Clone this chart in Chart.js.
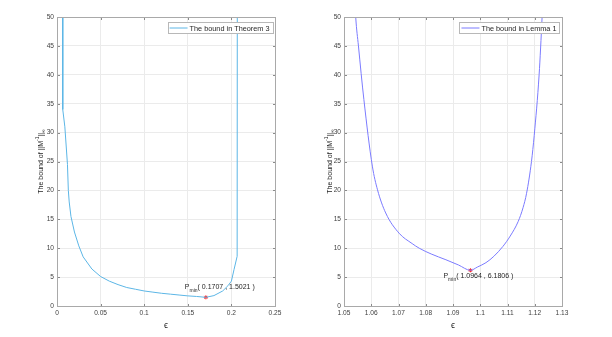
<!DOCTYPE html>
<html>
<head>
<meta charset="utf-8">
<script src="https://cdn.jsdelivr.net/npm/chart.js@4.4.0/dist/chart.umd.min.js"></script>
<style>
  html, body { margin: 0; padding: 0; background: #fff; }
  #wrap { position: relative; width: 612px; height: 337px; }
  .panel { position: absolute; top: 0; width: 306px; height: 337px; }
</style>
</head>
<body>
<div id="wrap">
  <div class="panel" style="left:0"><canvas id="chartLeft" width="306" height="337"></canvas></div>
  <div class="panel" style="left:306px"><canvas id="chartRight" width="306" height="337"></canvas></div>
</div>
<script>
// left panel: bound in Theorem 3
const leftEps   = [0.0062, 0.0066, 0.0090, 0.0120, 0.0130, 0.0140, 0.0160, 0.020, 0.025, 0.030, 0.040, 0.050, 0.060, 0.070, 0.080, 0.090, 0.100, 0.110, 0.120, 0.130, 0.140, 0.150, 0.160, 0.1707, 0.180, 0.190, 0.196, 0.200, 0.203, 0.2066, 0.2077];
const leftBound = [300, 34, 31, 24.5, 20, 18, 15.5, 12.8, 10.4, 8.5, 6.4, 5.1, 4.3, 3.7, 3.2, 2.9, 2.6, 2.4, 2.2, 2.05, 1.9, 1.75, 1.65, 1.5021, 1.8, 2.6, 3.5, 4.3, 6.3, 8.6, 300];
const leftMin = [0.1707, 1.5021];
const leftXTicks = [0, 0.05, 0.1, 0.15, 0.2, 0.25];
const leftXLabels = ["0", "0.05", "0.1", "0.15", "0.2", "0.25"];

// right panel: bound in Lemma 1
const rightEps   = [1.0533, 1.0543, 1.0553, 1.0573, 1.0604, 1.0623, 1.0653, 1.0702, 1.0750, 1.0776, 1.0820, 1.0874, 1.0920, 1.0964, 1.0990, 1.1021, 1.1050, 1.1083, 1.1110, 1.1139, 1.1157, 1.1170, 1.1188, 1.1198, 1.1216, 1.1227, 1.1236];
const rightBound = [60, 50, 45, 35.7, 24.2, 20.1, 16.1, 12.6, 10.8, 10.0, 9.0, 8.0, 7.1, 6.1806, 6.75, 7.5, 8.6, 10.3, 12.1, 14.6, 17.0, 19.5, 25.0, 29.5, 40.0, 50, 60];
const rightMin = [1.0964, 6.1806];
const rightXTicks = [1.05, 1.06, 1.07, 1.08, 1.09, 1.1, 1.11, 1.12, 1.13];
const rightXLabels = ["1.05", "1.06", "1.07", "1.08", "1.09", "1.1", "1.11", "1.12", "1.13"];

const yTicks = [0, 5, 10, 15, 20, 25, 30, 35, 40, 45, 50];

const FONT = "'Liberation Sans', Arial, Helvetica, sans-serif";
const TEXT = "#262626";

function decor(o) {
  return {
    id: "decor",
    afterDraw(chart) {
      const { ctx, chartArea: a, scales: { x, y } } = chart;
      const L = Math.round(a.left) + 0.5, R = Math.round(a.right) + 0.5;
      const T = Math.round(a.top) + 0.5, B = Math.round(a.bottom) + 0.5;
      ctx.save();

      // inward tick marks
      ctx.strokeStyle = "#8a8a8a";
      ctx.lineWidth = 1;
      ctx.beginPath();
      x.ticks.forEach(t => {
        const px = Math.round(x.getPixelForValue(t.value)) + 0.5;
        ctx.moveTo(px, B); ctx.lineTo(px, B - 2.5);
        ctx.moveTo(px, T); ctx.lineTo(px, T + 2.5);
      });
      y.ticks.forEach(t => {
        const py = Math.round(y.getPixelForValue(t.value)) + 0.5;
        ctx.moveTo(L, py); ctx.lineTo(L + 2.5, py);
        ctx.moveTo(R, py); ctx.lineTo(R - 2.5, py);
      });
      ctx.stroke();

      // axes box
      ctx.strokeStyle = "#a9a9a9";
      ctx.strokeRect(L, T, R - L, B - T);

      // legend
      ctx.font = "7.3px " + FONT;
      const tw = ctx.measureText(o.legend).width;
      const bx1 = R - 3, bx0 = bx1 - (tw + 25), by0 = T + 5, bh = 11;
      ctx.fillStyle = "#fff";
      ctx.fillRect(bx0, by0, bx1 - bx0, bh);
      ctx.strokeStyle = "#b8b8b8";
      ctx.strokeRect(Math.round(bx0) + 0.5, by0, Math.round(bx1 - bx0), bh);
      ctx.strokeStyle = o.color;
      ctx.beginPath();
      ctx.moveTo(bx0 + 2, by0 + bh / 2); ctx.lineTo(bx0 + 20, by0 + bh / 2);
      ctx.stroke();
      ctx.fillStyle = TEXT;
      ctx.textBaseline = "middle";
      ctx.fillText(o.legend, bx0 + 22, by0 + bh / 2 + 0.5);

      // minimum annotation
      const mx = x.getPixelForValue(o.min[0]), my = y.getPixelForValue(o.min[1]);
      let ax = mx + o.annot[0];
      const ay = my + o.annot[1];
      ctx.textBaseline = "alphabetic";
      ctx.font = "7px " + FONT;
      ctx.fillText("P", ax, ay);
      ax += ctx.measureText("P").width;
      ctx.font = "5px " + FONT;
      ctx.fillText("min", ax, ay + 2.5);
      ax += ctx.measureText("min").width;
      ctx.font = "7px " + FONT;
      ctx.fillText("( " + o.min[0].toFixed(4) + " , " + o.min[1].toFixed(4) + " )", ax, ay);

      // y axis label with super/subscripts
      const parts = [
        ["The bound of ||M", 7, 0],
        ["-1", 5, -3],
        ["||", 7, 0],
        ["\u221e", 5, 2.5]
      ];
      let total = 0;
      parts.forEach(p => { ctx.font = p[1] + "px " + FONT; total += ctx.measureText(p[0]).width; });
      ctx.save();
      ctx.translate(o.ylabelX, (a.top + a.bottom) / 2);
      ctx.rotate(-Math.PI / 2);
      ctx.textBaseline = "middle";
      let cx = -total / 2;
      parts.forEach(p => {
        ctx.font = p[1] + "px " + FONT;
        ctx.fillText(p[0], cx, p[2]);
        cx += ctx.measureText(p[0]).width;
      });
      ctx.restore();

      // x axis label
      ctx.font = "9px " + FONT;
      ctx.textAlign = "center";
      ctx.textBaseline = "middle";
      ctx.fillText("\u03f5", (a.left + a.right) / 2, 326);
      ctx.restore();
    }
  };
}

function makeChart(id, eps, bound, minPt, xTicks, xLabels, color, o) {
  const line = eps.map((v, i) => ({ x: v, y: bound[i] }));
  return new Chart(document.getElementById(id), {
    type: "line",
    data: {
      datasets: [{
        data: line,
        borderColor: color,
        borderWidth: 1,
        pointRadius: 0,
        tension: 0,
        cubicInterpolationMode: o.smooth ? "monotone" : "default",
        fill: false
      }, {
        data: [{ x: minPt[0], y: minPt[1] }],
        showLine: false,
        pointStyle: "star",
        pointRadius: 2,
        borderColor: "#ff2020",
        backgroundColor: "#ff2020",
        borderWidth: 1
      }]
    },
    options: {
      responsive: false,
      animation: false,
      events: [],
      layout: { padding: { top: 17, right: o.padRight, left: 0, bottom: 0 } },
      plugins: { legend: { display: false }, tooltip: { enabled: false } },
      scales: {
        x: {
          type: "linear",
          min: xTicks[0],
          max: xTicks[xTicks.length - 1],
          afterBuildTicks: s => { s.ticks = xTicks.map(v => ({ value: v })); },
          afterFit: s => { s.height = 31; },
          grid: { color: "#ebebeb", drawTicks: false },
          border: { display: false },
          ticks: {
            padding: 3,
            maxRotation: 0,
            autoSkip: false,
            color: "#404040",
            font: { family: FONT, size: 6.6 },
            callback: (v, i) => xLabels[i]
          }
        },
        y: {
          min: 0,
          max: 50,
          afterBuildTicks: s => { s.ticks = yTicks.map(v => ({ value: v })); },
          afterFit: s => { s.width = o.yWidth; },
          grid: { color: "#ebebeb", drawTicks: false },
          border: { display: false },
          ticks: {
            padding: 3,
            autoSkip: false,
            color: "#404040",
            font: { family: FONT, size: 6.6 },
            callback: (v, i) => String(yTicks[i])
          }
        }
      }
    },
    plugins: [decor({ legend: o.legend, color, min: minPt, annot: o.annot, ylabelX: o.ylabelX })]
  });
}

document.addEventListener("DOMContentLoaded", () => {
  makeChart("chartLeft", leftEps, leftBound, leftMin, leftXTicks, leftXLabels, "#5cb6e6", {
    padRight: 31, yWidth: 57, legend: "The bound in Theorem 3",
    annot: [-21, -8], ylabelX: 41, smooth: false
  });
  makeChart("chartRight", rightEps, rightBound, rightMin, rightXTicks, rightXLabels, "#7b7bff", {
    padRight: 50, yWidth: 38, legend: "The bound in Lemma 1",
    annot: [-27, 8], ylabelX: 24, smooth: true
  });
});
</script>
</body>
</html>
